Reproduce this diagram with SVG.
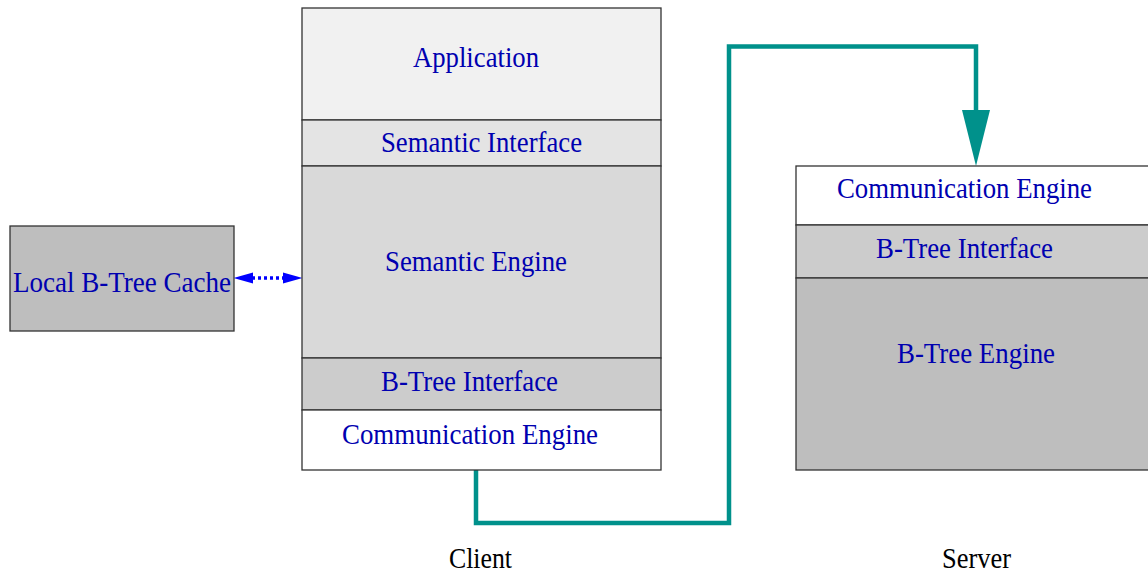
<svg xmlns="http://www.w3.org/2000/svg" width="1148" height="574" viewBox="0 0 1148 574">
<style>
.box{stroke:#333;stroke-width:1.3}
.lbl{font-family:'Liberation Serif','DejaVu Serif',serif;font-size:30px;fill:#0000B0}
.cap{font-family:'Liberation Serif','DejaVu Serif',serif;font-size:30px;fill:#000}
.link{fill:none;stroke:#00918B;stroke-width:4.5}
.head{fill:#0000FF}
</style>
<rect width="1148" height="574" fill="#fff"/>
<g id="connectors">
<path class="link" d="M476,470 V523 H729 V46.5 H976 V112"/>
<path d="M962,110 L990,110 L976,166 Z" fill="#00918B"/>
<line x1="252" y1="278" x2="285" y2="278" stroke="#0000FF" stroke-width="3.5" stroke-dasharray="3,3"/>
<path class="head" d="M233.5,278 L253,272.5 L253,283.5 Z"/>
<path class="head" d="M302.5,278 L283,272.5 L283,283.5 Z"/>
</g>
<g id="client" font-family="Liberation Serif, DejaVu Serif, serif">
<g id="application">
<rect class="box" x="302" y="8" width="359" height="112" fill="#F1F1F1"/>
<text class="lbl" x="413" y="67" textLength="126" lengthAdjust="spacingAndGlyphs">Application</text>
</g>
<g id="semantic-interface">
<rect class="box" x="302" y="120" width="359" height="46" fill="#E4E4E4"/>
<text class="lbl" x="381" y="152" textLength="201" lengthAdjust="spacingAndGlyphs">Semantic Interface</text>
</g>
<g id="semantic-engine">
<rect class="box" x="302" y="166" width="359" height="192" fill="#D9D9D9"/>
<text class="lbl" x="385" y="271" textLength="182" lengthAdjust="spacingAndGlyphs">Semantic Engine</text>
</g>
<g id="client-btree-interface">
<rect class="box" x="302" y="358" width="359" height="52" fill="#CCCCCC"/>
<text class="lbl" x="381" y="391" textLength="177" lengthAdjust="spacingAndGlyphs">B-Tree Interface</text>
</g>
<g id="client-communication-engine">
<rect class="box" x="302" y="410" width="359" height="60" fill="#FFFFFF"/>
<text class="lbl" x="342" y="444" textLength="256" lengthAdjust="spacingAndGlyphs">Communication Engine</text>
</g>
</g>
<g id="server">
<g id="server-communication-engine">
<rect class="box" x="796" y="166" width="360" height="59" fill="#FFFFFF"/>
<text class="lbl" x="837" y="198" textLength="255" lengthAdjust="spacingAndGlyphs">Communication Engine</text>
</g>
<g id="server-btree-interface">
<rect class="box" x="796" y="225" width="360" height="53" fill="#CCCCCC"/>
<text class="lbl" x="876" y="258" textLength="177" lengthAdjust="spacingAndGlyphs">B-Tree Interface</text>
</g>
<g id="btree-engine">
<rect class="box" x="796" y="278" width="360" height="192" fill="#BEBEBE"/>
<text class="lbl" x="897" y="363" textLength="158" lengthAdjust="spacingAndGlyphs">B-Tree Engine</text>
</g>
</g>
<g id="local-cache">
<rect class="box" x="10" y="226" width="224" height="105" fill="#BEBEBE"/>
<text class="lbl" x="13" y="292" textLength="218" lengthAdjust="spacingAndGlyphs">Local B-Tree Cache</text>
</g>
<g id="captions">
<text class="cap" x="449" y="568" textLength="63" lengthAdjust="spacingAndGlyphs">Client</text>
<text class="cap" x="942" y="568" textLength="69" lengthAdjust="spacingAndGlyphs">Server</text>
</g>
</svg>
